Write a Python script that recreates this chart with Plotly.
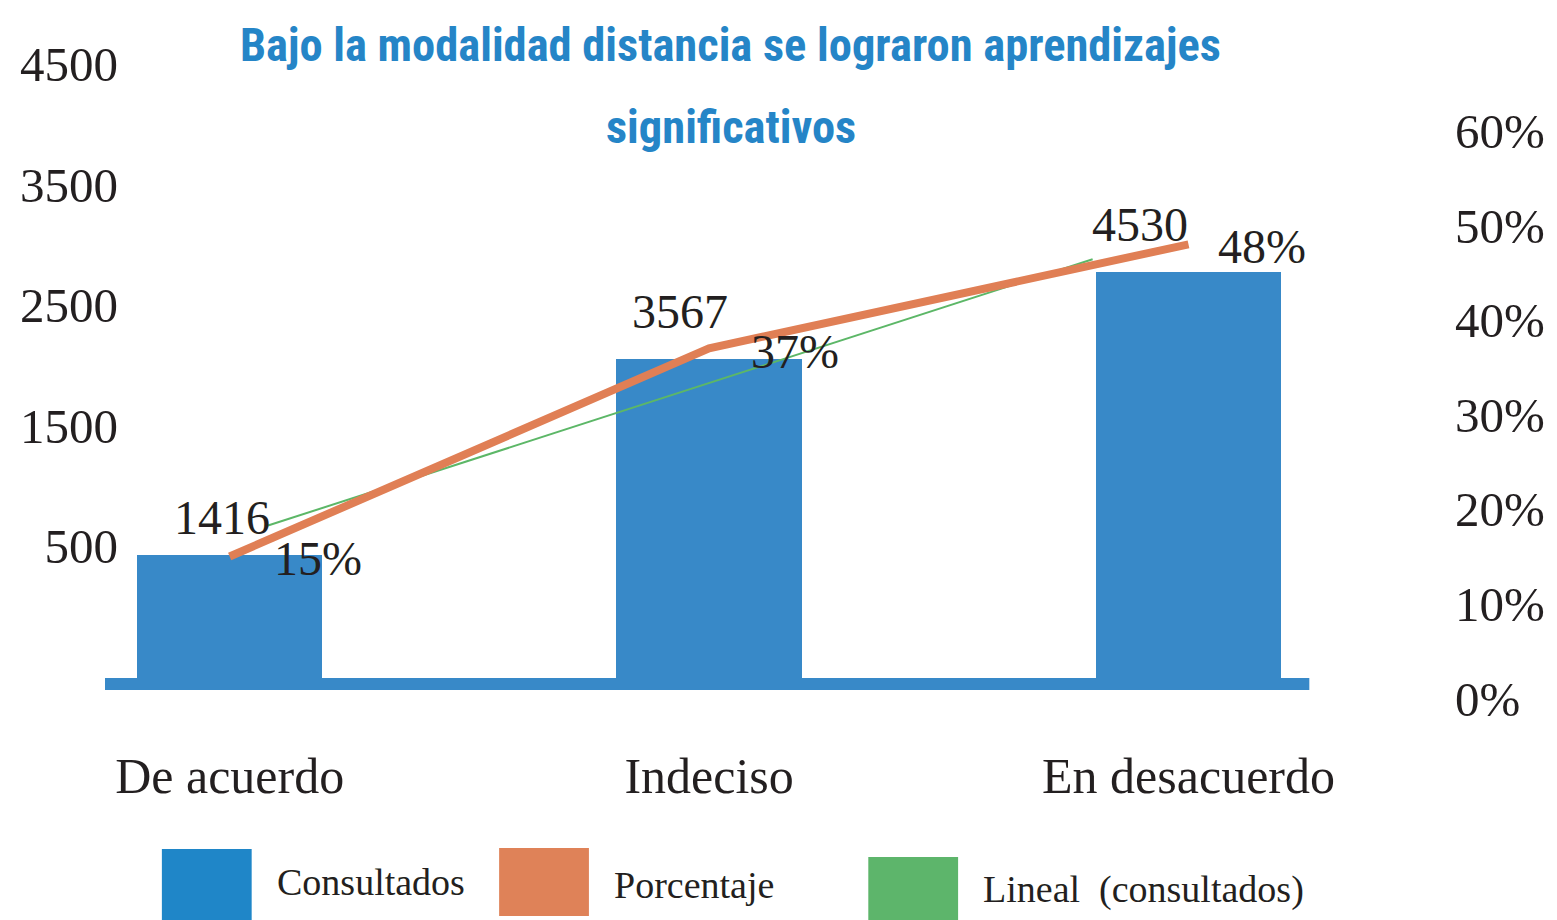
import numpy as np
import plotly.graph_objects as go

# ---------------- data ----------------
categories = ["De acuerdo", "Indeciso", "En desacuerdo"]
consultados = [1416, 3567, 4530]
porcentaje = [0.15, 0.37, 0.48]
porcentaje_labels = ["15%", "37%", "48%"]
left_ticks = [500, 1500, 2500, 3500, 4500]
right_ticks = [0.0, 0.1, 0.2, 0.3, 0.4, 0.5, 0.6]
title_lines = ["Bajo la modalidad distancia se lograron aprendizajes", "significativos"]
legend_names = ["Consultados", "Porcentaje", "Lineal\u00a0 (consultados)"]

# ---------------- style / layout ----------------
W, H = 1557, 920
ML, MR, MT, MB = 105, 100, 60, 200
PW, PH = W - ML - MR, H - MT - MB
BLUE = "#3889c8"
ORANGE = "#e07f55"
GREEN = "#5cb767"
TXT = "#231f20"
SERIF = "Liberation Serif, Times New Roman, serif"
TITLE_FONT = ("Noto Sans ExtraCondensed, Noto Sans Condensed, Roboto Condensed, "
              "Liberation Sans Narrow, DejaVu Sans Condensed, Arial Narrow, Noto Sans, sans-serif")

def px(x):
    return (x - ML) / PW

def py(y):
    return (MT + PH - y) / PH

xpos = list(range(len(categories)))

# linear trend of consultados, expressed as share of total (plotted on % axis)
total = sum(consultados)
coef = np.polyfit(xpos, np.array(consultados) / total, 1)
trend_x = np.array([0.08, 1.8])
trend_y = np.polyval(coef, trend_x)

fig = go.Figure()
fig.add_trace(go.Bar(x=xpos, y=consultados, name="Consultados", marker=dict(color=BLUE, line=dict(width=0)),
                     width=0.387, yaxis="y", showlegend=False, hoverinfo="skip"))
fig.add_trace(go.Scatter(x=trend_x, y=trend_y, mode="lines", name="Lineal (consultados)",
                         line=dict(color=GREEN, width=2), yaxis="y2", showlegend=False, hoverinfo="skip"))
fig.add_trace(go.Scatter(x=xpos, y=porcentaje, mode="lines", name="Porcentaje",
                         line=dict(color=ORANGE, width=8), yaxis="y2", showlegend=False, hoverinfo="skip"))
# carrier for the left tick axis
fig.add_trace(go.Scatter(x=[None], y=[None], yaxis="y3", showlegend=False, hoverinfo="skip"))

xdom_end = (1312 - ML) / PW
fig.update_layout(
    width=W, height=H,
    margin=dict(l=ML, r=MR, t=MT, b=MB, pad=0),
    paper_bgcolor="white", plot_bgcolor="white",
    showlegend=False,
    bargap=0,
    xaxis=dict(domain=[0, xdom_end], range=[-0.260, 2.252], tickvals=xpos, ticktext=categories,
               showgrid=False, zeroline=False, showline=False, ticks="",
               tickfont=dict(family=SERIF, size=50, color=TXT), ticklabelstandoff=22),
    yaxis=dict(range=[-396, 6857], visible=False, showgrid=False, zeroline=False),
    yaxis2=dict(overlaying="y", side="right", anchor="free", position=1.0,
                range=[-0.0228, 0.6748], tickvals=right_ticks, tickformat=".0%",
                showgrid=False, zeroline=False, showline=False, ticks="",
                tickfont=dict(family=SERIF, size=49, color=TXT)),
    yaxis3=dict(overlaying="y", side="left", anchor="free", position=0.0096,
                range=[-947, 4536], tickvals=left_ticks, ticktext=[str(v) for v in left_ticks],
                showgrid=False, zeroline=False, showline=False, ticks="",
                tickfont=dict(family=SERIF, size=49, color=TXT)),
)

# baseline under the bars
fig.add_shape(type="line", xref="x domain", yref="y", x0=0, x1=1, y0=0, y1=0,
              line=dict(color=BLUE, width=12), layer="above")

annotations = []
# title
for line, yc in zip(title_lines, [45, 127]):
    annotations.append(dict(text=line, xref="paper", yref="paper", x=px(732), y=py(yc),
                            xanchor="center", yanchor="middle", showarrow=False,
                            font=dict(family=TITLE_FONT, size=46.5, color="#2585c7", weight="bold")))

# value labels
val_shift = [(-8, 38), (-29, 48), (-49, 47)]
for i, v in enumerate(consultados):
    annotations.append(dict(text=str(v), x=xpos[i], y=v, xref="x", yref="y", showarrow=False,
                            xanchor="center", yanchor="middle", xshift=val_shift[i][0], yshift=val_shift[i][1],
                            font=dict(family=SERIF, size=48, color=TXT)))
pct_shift = [(88, -2), (86, -3), (73, -2)]
for i, p in enumerate(porcentaje):
    annotations.append(dict(text=porcentaje_labels[i], x=xpos[i], y=p, xref="x", yref="y2", showarrow=False,
                            xanchor="center", yanchor="middle", xshift=pct_shift[i][0], yshift=pct_shift[i][1],
                            font=dict(family=SERIF, size=48, color=TXT)))

# manual legend
leg_boxes = [("#1f86c8", 162, 252, 849, 920), ("#df8258", 500, 590, 848, 916), ("#5db56b", 870, 960, 857, 920)]
leg_text = [(275, 882), (613, 885), (983, 889)]
for (col, x0, x1, y0, y1), name, (tx, ty) in zip(leg_boxes, legend_names, leg_text):
    fig.add_shape(type="rect", xref="paper", yref="paper", x0=px(x0), x1=px(x1), y0=py(y1), y1=py(y0),
                  fillcolor=col, line=dict(width=0))
    annotations.append(dict(text=name, xref="paper", yref="paper", x=px(tx), y=py(ty), showarrow=False,
                            xanchor="left", yanchor="middle", font=dict(family=SERIF, size=38, color=TXT)))

fig.update_layout(annotations=annotations)
fig.write_html("out.html", config={"displayModeBar": False},
               post_script="document.body.style.margin='0';")
